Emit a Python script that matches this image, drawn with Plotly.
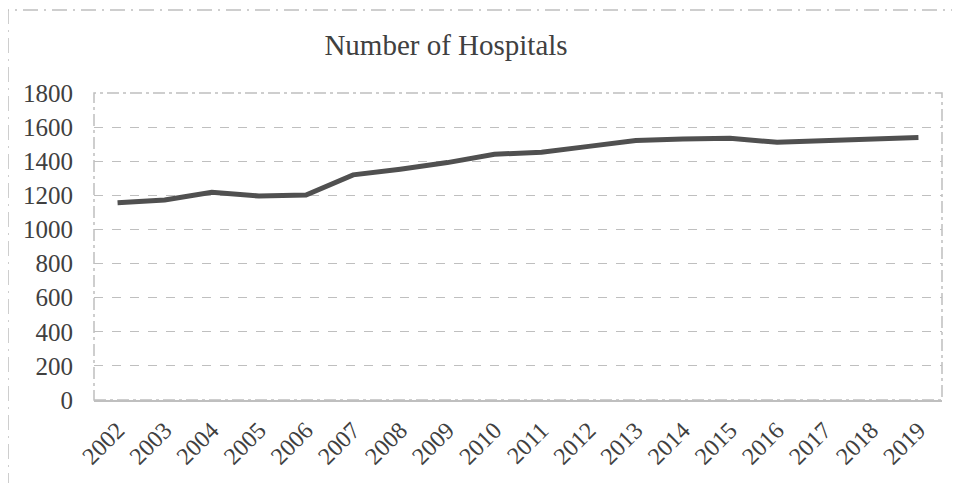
import plotly.graph_objects as go

years = [str(y) for y in range(2002, 2020)]
hospitals = [1157, 1173, 1218, 1196, 1202, 1320, 1353, 1392, 1441, 1453,
             1487, 1521, 1531, 1535, 1511, 1519, 1531, 1539]
y_ticks = [0, 200, 400, 600, 800, 1000, 1200, 1400, 1600, 1800]

# page has an 8px body margin, so the figure is laid out in its own coords
OFF = 8
W, H = 960 - OFF, 483 - OFF
L, R, T, B = 94 - OFF, 18, 93 - OFF, 83
pw, ph = W - L - R, H - T - B

FONT = "Liberation Serif"
TXT = "#404040"
GRID = "#bfbfbf"

fig = go.Figure()
fig.add_trace(go.Scatter(
    x=years, y=hospitals, mode="lines",
    line=dict(color="#505050", width=5),
    hoverinfo="x+y", showlegend=False,
))

fig.update_layout(
    width=W, height=H,
    margin=dict(l=L, r=R, t=T, b=B, pad=0, autoexpand=False),
    paper_bgcolor="white", plot_bgcolor="white",
    title=dict(text="Number of Hospitals", x=(446 - OFF) / W, xref="container", xanchor="center",
               y=1 - (45 - OFF) / H, yref="container", yanchor="middle",
               font=dict(family=FONT, size=29, color=TXT)),
    font=dict(family=FONT, color=TXT),
    xaxis=dict(type="category", range=[-0.5, len(years) - 0.5],
               tickangle=-45, showgrid=False, ticks="",
               showline=True, linecolor=GRID, linewidth=1.5,
               tickfont=dict(family=FONT, size=24, color=TXT),
               ticklabelstandoff=5, zeroline=False, automargin=False),
    yaxis=dict(range=[0, 1800], tickvals=y_ticks, ticks="",
               showgrid=True, gridcolor=GRID, griddash="dash", gridwidth=1.2,
               zeroline=False, showline=False, automargin=False,
               tickfont=dict(family=FONT, size=25, color=TXT),
               ticklabelstandoff=20),
)

# plot-area border (dash-dot)
fig.add_shape(type="rect", xref="paper", yref="paper", x0=0, x1=1, y0=0, y1=1,
              line=dict(color=GRID, width=1.5, dash="12px,4px,3px,4px"), layer="below")
# outer chart border (dash-dot), extending past the window
fig.add_shape(type="rect", xref="paper", yref="paper",
              x0=(8 - OFF - L) / pw, x1=(W + 20 - L) / pw,
              y0=(H - B - (H + 20)) / ph, y1=(H - B - (10 - OFF)) / ph,
              line=dict(color=GRID, width=1.5, dash="15px,6px,2px,6px"), layer="below")

fig.write_html("out.html")
